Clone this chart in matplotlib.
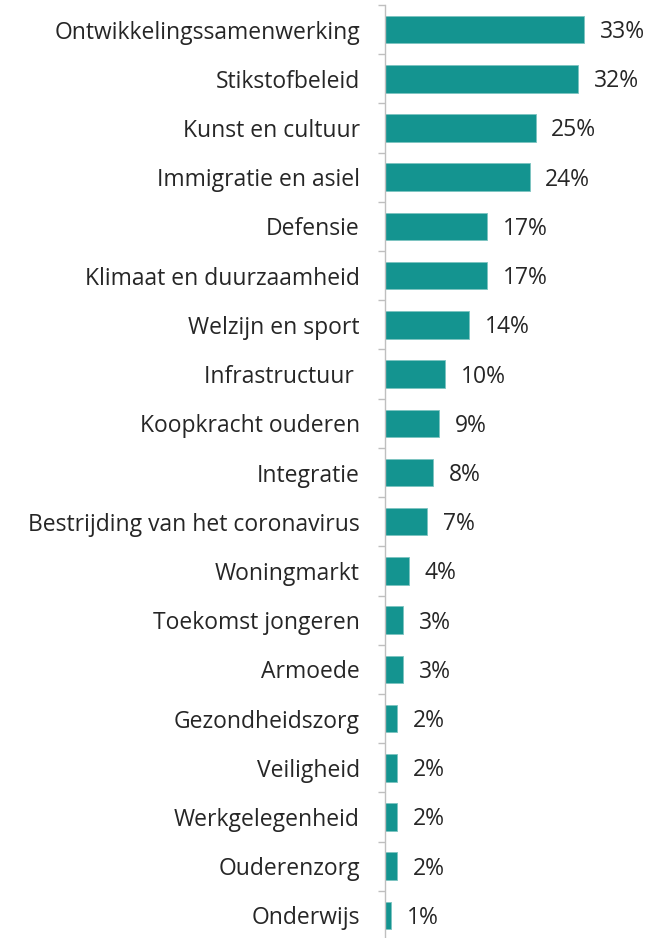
import matplotlib.pyplot as plt
import numpy as np

plt.rcParams['font.family'] = ['Open Sans', 'DejaVu Sans']

onderwerpen = ['Ontwikkelingssamenwerking', 'Stikstofbeleid', 'Kunst en cultuur',
               'Immigratie en asiel', 'Defensie', 'Klimaat en duurzaamheid',
               'Welzijn en sport', 'Infrastructuur ', 'Koopkracht ouderen',
               'Integratie', 'Bestrijding van het coronavirus', 'Woningmarkt',
               'Toekomst jongeren', 'Armoede', 'Gezondheidszorg', 'Veiligheid',
               'Werkgelegenheid', 'Ouderenzorg', 'Onderwijs']
percentages = [33, 32, 25, 24, 17, 17, 14, 10, 9, 8, 7, 4, 3, 3, 2, 2, 2, 2, 1]

teal = '#149490'
tekst = '#262626'

fig = plt.figure(figsize=(6.49, 9.38), dpi=100)
ax = fig.add_axes([385 / 649, -2 / 938, 264 / 649, 935 / 938])

y = np.arange(len(onderwerpen))
ax.barh(y, percentages, height=0.56, color=teal, edgecolor='#7cc4c1', linewidth=0.6)

for yi, v in zip(y, percentages):
    ax.text(v + 2.6, yi + 0.05, f'{v}%', va='center', ha='left', fontsize=16.5, color=tekst)

ax.set_ylim(len(onderwerpen) - 0.5, -0.5)
ax.set_xlim(0, 43.8)
ax.set_yticks(y)
ax.set_yticklabels(onderwerpen, fontsize=16.5, color=tekst)
ax.set_yticks(np.arange(len(onderwerpen) + 1) - 0.5, minor=True)
ax.tick_params(axis='y', which='major', length=0, pad=18)
ax.tick_params(axis='y', which='minor', length=5, color='#bfbfbf', width=1)
ax.set_xticks([])

for s in ['top', 'right', 'bottom']:
    ax.spines[s].set_visible(False)
ax.spines['left'].set_color('#bfbfbf')
ax.spines['left'].set_linewidth(1)

fig.savefig('out.png', dpi=100)
